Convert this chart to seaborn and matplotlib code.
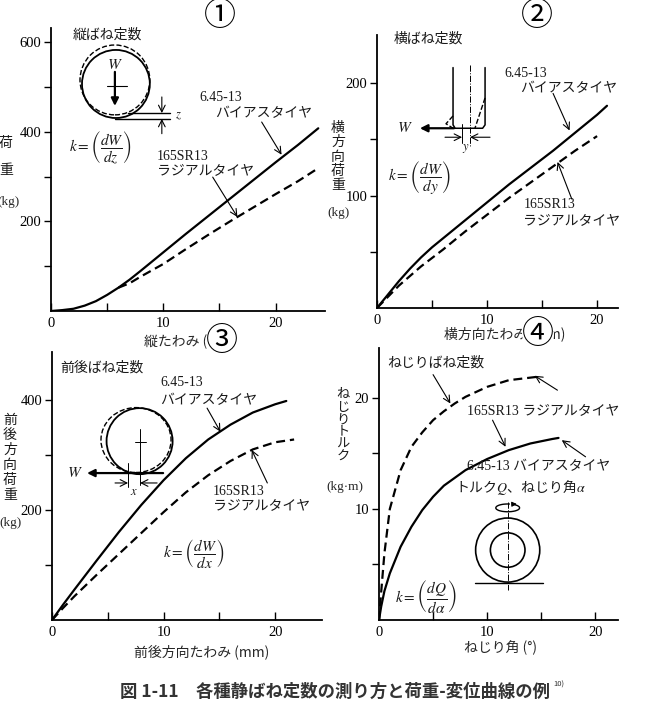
import numpy as np
import pandas as pd
import matplotlib.pyplot as plt
import seaborn as sns
from matplotlib.patches import Ellipse, Arc

# ---- values ----
# (1) vertical spring rate: load (kg) vs vertical deflection (mm)
p1_bias_x = [0, 1, 2, 3, 4, 5, 6, 7, 8, 10, 12, 14, 16, 18, 20, 22, 23.8]
p1_bias_y = [0, 2, 5, 12, 22, 36, 52, 70, 90, 131, 172, 212, 252, 292, 332, 371, 408]
p1_radial_x = [6, 7, 8, 10, 12, 14, 16, 18, 20, 22, 23.8]
p1_radial_y = [52, 62, 77, 105, 138, 170, 201, 231, 261, 290, 319]

# (2) lateral spring rate
p2_bias_x = [0, 0.5, 1, 2, 3, 4, 5, 6, 8, 10, 12, 14, 16, 18, 20, 20.9]
p2_bias_y = [0, 6, 12, 24, 35, 45, 54, 62, 78, 94, 110, 125, 140, 156, 172, 180]
p2_radial_x = [0, 1, 2, 4, 6, 8, 10, 12, 14, 16, 18, 20]
p2_radial_y = [0, 10, 20, 37, 52, 68, 83, 98, 112, 126, 140, 153]

# (3) fore-aft spring rate
p3_bias_x = [0, 1, 2, 4, 6, 8, 10, 12, 14, 16, 18, 20, 21]
p3_bias_y = [0, 28, 55, 108, 160, 209, 254, 294, 328, 355, 377, 392, 398]
p3_radial_x = [0, 1, 2, 4, 6, 8, 10, 12, 14, 16, 18, 20, 21.7]
p3_radial_y = [0, 22, 43, 82, 120, 158, 196, 232, 263, 289, 310, 323, 328]

# (4) torsional spring rate: torque (kg.m) vs twist angle (deg)
p4_bias_x = [0, 0.2, 0.5, 1, 2, 3, 4, 5, 6, 8, 10, 12, 14, 16, 16.6]
p4_bias_y = [0, 1.2, 2.6, 4.2, 6.6, 8.4, 9.9, 11.1, 12.1, 13.5, 14.5, 15.3, 15.9, 16.3, 16.4]
p4_radial_x = [0, 0.2, 0.5, 1, 2, 3, 4, 5, 6, 7, 8, 10, 12, 14.6]
p4_radial_y = [0, 2.5, 6, 10, 13.5, 15.6, 16.9, 18, 18.8, 19.5, 20.1, 21.0, 21.6, 21.9]

x_major = [0, 10, 20]
x_minor = [5, 15]

W_PX, H_PX = 649, 712
CJK = ['Noto Sans CJK JP', 'DejaVu Sans']
SERIF = ['Liberation Serif', 'Noto Sans CJK JP', 'DejaVu Sans']

sns.set_theme(style='ticks')
plt.rcParams['font.family'] = CJK
plt.rcParams['mathtext.fontset'] = 'stix'

fig = plt.figure(figsize=(W_PX / 100, H_PX / 100), dpi=100)
fig.patch.set_facecolor('white')


def fx(px):
    return px / W_PX


def fy(py):
    return 1 - py / H_PX


def add_axes(left, top, right, bottom):
    return fig.add_axes([fx(left), fy(bottom), (right - left) / W_PX, (bottom - top) / H_PX])


def draw_curves(ax, bx, by, rx, ry):
    df = pd.concat([
        pd.DataFrame({'x': bx, 'y': by, 'tire': 'bias'}),
        pd.DataFrame({'x': rx, 'y': ry, 'tire': 'radial'}),
    ])
    sns.lineplot(data=df, x='x', y='y', style='tire', style_order=['bias', 'radial'],
                 dashes={'bias': '', 'radial': (4, 2.2)}, color='black', linewidth=1.6,
                 estimator=None, sort=False, legend=False, ax=ax)


def style_axes(ax, xmax, ymax, y_major, y_minor):
    ax.set_xlim(0, xmax)
    ax.set_ylim(0, ymax)
    ax.set_xlabel('')
    ax.set_ylabel('')
    ax.set_facecolor('white')
    sns.despine(ax=ax)
    for s in ['left', 'bottom']:
        ax.spines[s].set_color('black')
        ax.spines[s].set_linewidth(1.3)
    ax.set_xticks(x_major)
    ax.set_xticks(x_minor, minor=True)
    ax.set_yticks(y_major)
    ax.set_yticks(y_minor, minor=True)
    ax.set_xticklabels([str(v) for v in x_major], family=SERIF, fontsize=10.5)
    ax.set_yticklabels([str(v) for v in y_major], family=SERIF, fontsize=10.5)
    ax.tick_params(axis='x', which='both', direction='in', length=6, width=1, pad=4, colors='black')
    ax.tick_params(axis='y', which='both', direction='out', length=5, width=1, pad=2, colors='black')
    ax.grid(False)


def note(ax, x, y, s, ha='left', fs=10, family=SERIF, **kw):
    ax.text(x, y, s, ha=ha, va='center', fontsize=fs, family=family, color='#1a1a1a', **kw)


def pointer(ax, xy, xytext):
    ax.annotate('', xy=xy, xytext=xytext,
                arrowprops=dict(arrowstyle='->', lw=0.8, color='black', shrinkA=0, shrinkB=0))


def vlabel(chars, px, py0, step, fs=10):
    for i, c in enumerate(chars):
        fig.text(fx(px), fy(py0 + i * step), c, ha='center', va='center', fontsize=fs,
                 family=CJK, color='#1a1a1a')


# ---------- panel 1 ----------
ax1 = add_axes(51, 28, 325, 311)
draw_curves(ax1, p1_bias_x, p1_bias_y, p1_radial_x, p1_radial_y)
style_axes(ax1, 24.4, 632, [200, 400, 600], [100, 300, 500])
note(ax1, 5.0, 617, '縦ばね定数', ha='center', family=CJK)
ax1.add_patch(Ellipse((5.78, 507), 6.04, 152, fill=False, lw=1.3, color='black'))
ax1.add_patch(Ellipse((5.69, 516), 6.22, 156, fill=False, lw=1.0, ls='--', color='black'))
ax1.annotate('', xy=(5.69, 458), xytext=(5.69, 534),
             arrowprops=dict(arrowstyle='-|>', lw=1.6, color='black', mutation_scale=11,
                             shrinkA=0, shrinkB=0))
note(ax1, 5.69, 550, r'$W$', ha='center', fs=11)
ax1.plot([4.98, 6.76], [503, 503], color='black', lw=0.8)
ax1.plot([6.9, 10.6], [442, 442], color='black', lw=1.0)
ax1.plot([5.7, 10.6], [429, 429], color='black', lw=1.0)
pointer(ax1, (9.87, 442), (9.87, 478))
pointer(ax1, (9.87, 429), (9.87, 396))
note(ax1, 11.0, 436, r'$z$', fs=9)
note(ax1, 4.36, 364, r'$k=\left(\dfrac{dW}{dz}\right)$', ha='center', fs=11)
note(ax1, 13.24, 476, '6.45-13')
note(ax1, 14.58, 442, 'バイアスタイヤ', family=CJK)
pointer(ax1, (20.53, 349), (18.76, 422))
note(ax1, 9.42, 344, '165SR13')
note(ax1, 9.42, 315, 'ラジアルタイヤ', family=CJK)
pointer(ax1, (16.6, 210), (14.4, 299))

# ---------- panel 2 ----------
ax2 = add_axes(377, 35, 618, 308)
draw_curves(ax2, p2_bias_x, p2_bias_y, p2_radial_x, p2_radial_y)
style_axes(ax2, 21.9, 243, [100, 200], [50, 150])
note(ax2, 4.64, 240, '横ばね定数', ha='center', family=CJK)
ax2.plot([6.91, 6.91, 7.1, 9.6, 9.82, 9.82], [214, 163, 160, 160, 163, 214], color='black', lw=1.1)
ax2.plot([8.45, 8.45], [216, 143], color='black', lw=0.7, ls='-.')
ax2.plot([6.91, 6.27, 6.91], [171, 164, 160], color='black', lw=1.0, ls='--')
ax2.plot([9.82, 8.9], [187, 160], color='black', lw=1.0, ls='--')
ax2.annotate('', xy=(3.9, 160), xytext=(7.0, 160),
             arrowprops=dict(arrowstyle='-|>', lw=1.6, color='black', mutation_scale=11,
                             shrinkA=0, shrinkB=0))
note(ax2, 2.5, 160, r'$W$', ha='center', fs=11)
ax2.plot([7.73, 7.73], [164, 147], color='black', lw=0.7)
pointer(ax2, (7.73, 152), (6.18, 152))
pointer(ax2, (8.45, 152), (10.27, 152))
note(ax2, 8.05, 142, r'$y$', ha='center', fs=9)
note(ax2, 3.9, 116, r'$k=\left(\dfrac{dW}{dy}\right)$', ha='center', fs=11)
note(ax2, 11.6, 209, '6.45-13')
note(ax2, 13.0, 196, 'バイアスタイヤ', family=CJK)
pointer(ax2, (17.5, 158), (16.0, 191))
note(ax2, 13.3, 92, '165SR13')
note(ax2, 13.3, 78, 'ラジアルタイヤ', family=CJK)
pointer(ax2, (16.4, 130), (17.7, 97))

# ---------- panel 3 ----------
ax3 = add_axes(52, 352, 322, 620)
draw_curves(ax3, p3_bias_x, p3_bias_y, p3_radial_x, p3_radial_y)
style_axes(ax3, 24.2, 487, [200, 400], [100, 300])
note(ax3, 4.5, 458, '前後ばね定数', ha='center', family=CJK)
ax3.add_patch(Ellipse((7.85, 325), 5.92, 120, fill=False, lw=1.3, color='black'))
ax3.add_patch(Ellipse((7.53, 327), 6.28, 118, fill=False, lw=1.0, ls='--', color='black'))
ax3.annotate('', xy=(3.14, 267), xytext=(9.96, 267),
             arrowprops=dict(arrowstyle='-|>', lw=1.6, color='black', mutation_scale=11,
                             shrinkA=0, shrinkB=0))
note(ax3, 2.06, 267, r'$W$', ha='center', fs=11)
ax3.plot([7.89, 7.89], [347, 245], color='black', lw=0.7)
ax3.plot([7.44, 8.43], [324, 324], color='black', lw=0.7)
ax3.plot([6.82, 6.82], [285, 242], color='black', lw=0.7)
pointer(ax3, (6.82, 249), (5.65, 249))
pointer(ax3, (7.89, 249), (9.42, 249))
note(ax3, 7.35, 233, r'$x$', ha='center', fs=9)
note(ax3, 12.7, 121, r'$k=\left(\dfrac{dW}{dx}\right)$', ha='center', fs=11)
note(ax3, 9.7, 431, '6.45-13')
note(ax3, 9.7, 400, 'バイアスタイヤ', family=CJK)
pointer(ax3, (15.1, 342), (13.9, 385))
note(ax3, 14.4, 233, '165SR13')
note(ax3, 14.4, 209, 'ラジアルタイヤ', family=CJK)
pointer(ax3, (17.9, 309), (19.3, 249))

# ---------- panel 4 ----------
ax4 = add_axes(379, 348, 618, 620)
draw_curves(ax4, p4_bias_x, p4_bias_y, p4_radial_x, p4_radial_y)
style_axes(ax4, 22.1, 24.5, [10, 20], [5, 15])
note(ax4, 0.74, 23.2, 'ねじりばね定数', family=CJK)
pointer(ax4, (6.6, 19.5), (5.0, 22.1))
note(ax4, 8.1, 18.9, '165SR13 ラジアルタイヤ')
pointer(ax4, (14.4, 22.0), (16.5, 20.7))
pointer(ax4, (11.7, 15.6), (10.5, 18.0))
note(ax4, 8.1, 13.8, '6.45-13 バイアスタイヤ')
pointer(ax4, (16.9, 16.2), (19.1, 14.7))
note(ax4, 7.0, 11.9, r'トルク$Q$、ねじり角$\alpha$', family=CJK)
ax4.add_patch(Ellipse((11.9, 6.3), 5.93, 5.77, fill=False, lw=1.2, color='black'))
ax4.add_patch(Ellipse((11.9, 6.3), 3.2, 3.1, fill=False, lw=1.2, color='black'))
ax4.plot([8.9, 15.2], [3.33, 3.33], color='black', lw=1.0)
ax4.plot([11.9, 11.9], [10.6, 2.7], color='black', lw=0.7, ls='-.')
ax4.add_patch(Arc((11.9, 10.1), 2.2, 0.7, theta1=60, theta2=400, lw=1.0, color='black'))
ax4.annotate('', xy=(12.75, 10.45), xytext=(12.35, 10.43),
             arrowprops=dict(arrowstyle='-|>', lw=0.8, color='black', mutation_scale=7,
                             shrinkA=0, shrinkB=0))
note(ax4, 4.3, 2.1, r'$k=\left(\dfrac{dQ}{d\alpha}\right)$', ha='center', fs=11)

# ---------- axis titles (stacked vertical text) ----------
vlabel('荷重', 6, 143, 27)
fig.text(fx(8), fy(202), '(kg)', ha='center', va='center', fontsize=9.5, family=SERIF)
vlabel('横方向荷重', 338, 128, 14.3)
fig.text(fx(338), fy(213), '(kg)', ha='center', va='center', fontsize=9.5, family=SERIF)
vlabel('前後方向荷重', 10, 420, 15)
fig.text(fx(10), fy(523), '(kg)', ha='center', va='center', fontsize=9.5, family=SERIF)
vlabel('ねじりトルク', 343, 395, 12.4, fs=9.5)
fig.text(fx(345), fy(487), '(kg·m)', ha='center', va='center', fontsize=9.5, family=SERIF)

fig.text(fx(191), fy(342), '縦たわみ (mm)', ha='center', va='center', fontsize=10, family=CJK)
fig.text(fx(505), fy(334), '横方向たわみ (mm)', ha='center', va='center', fontsize=10, family=CJK)
fig.text(fx(202), fy(652), '前後方向たわみ (mm)', ha='center', va='center', fontsize=10, family=CJK)
fig.text(fx(500), fy(648), 'ねじり角 (°)', ha='center', va='center', fontsize=10, family=CJK)

# circled panel numbers
for s, px, py in [('①', 220, 16), ('②', 537, 16), ('③', 222, 341), ('④', 538, 334)]:
    fig.text(fx(px), fy(py), s, ha='center', va='center', fontsize=23, family=CJK,
             color='black', bbox=dict(boxstyle='circle,pad=0.0', fc='white', ec='none'))

# caption
fig.text(fx(120), fy(692), '図 1-11　各種静ばね定数の測り方と荷重-変位曲線の例', ha='left',
         va='center', fontsize=12.5, family=CJK, weight='bold', color='#333333')
fig.text(fx(553), fy(685), '10)', ha='left', va='center', fontsize=5.5, family=CJK, color='#333333')

fig.savefig('out.png', dpi=100, facecolor='white')
